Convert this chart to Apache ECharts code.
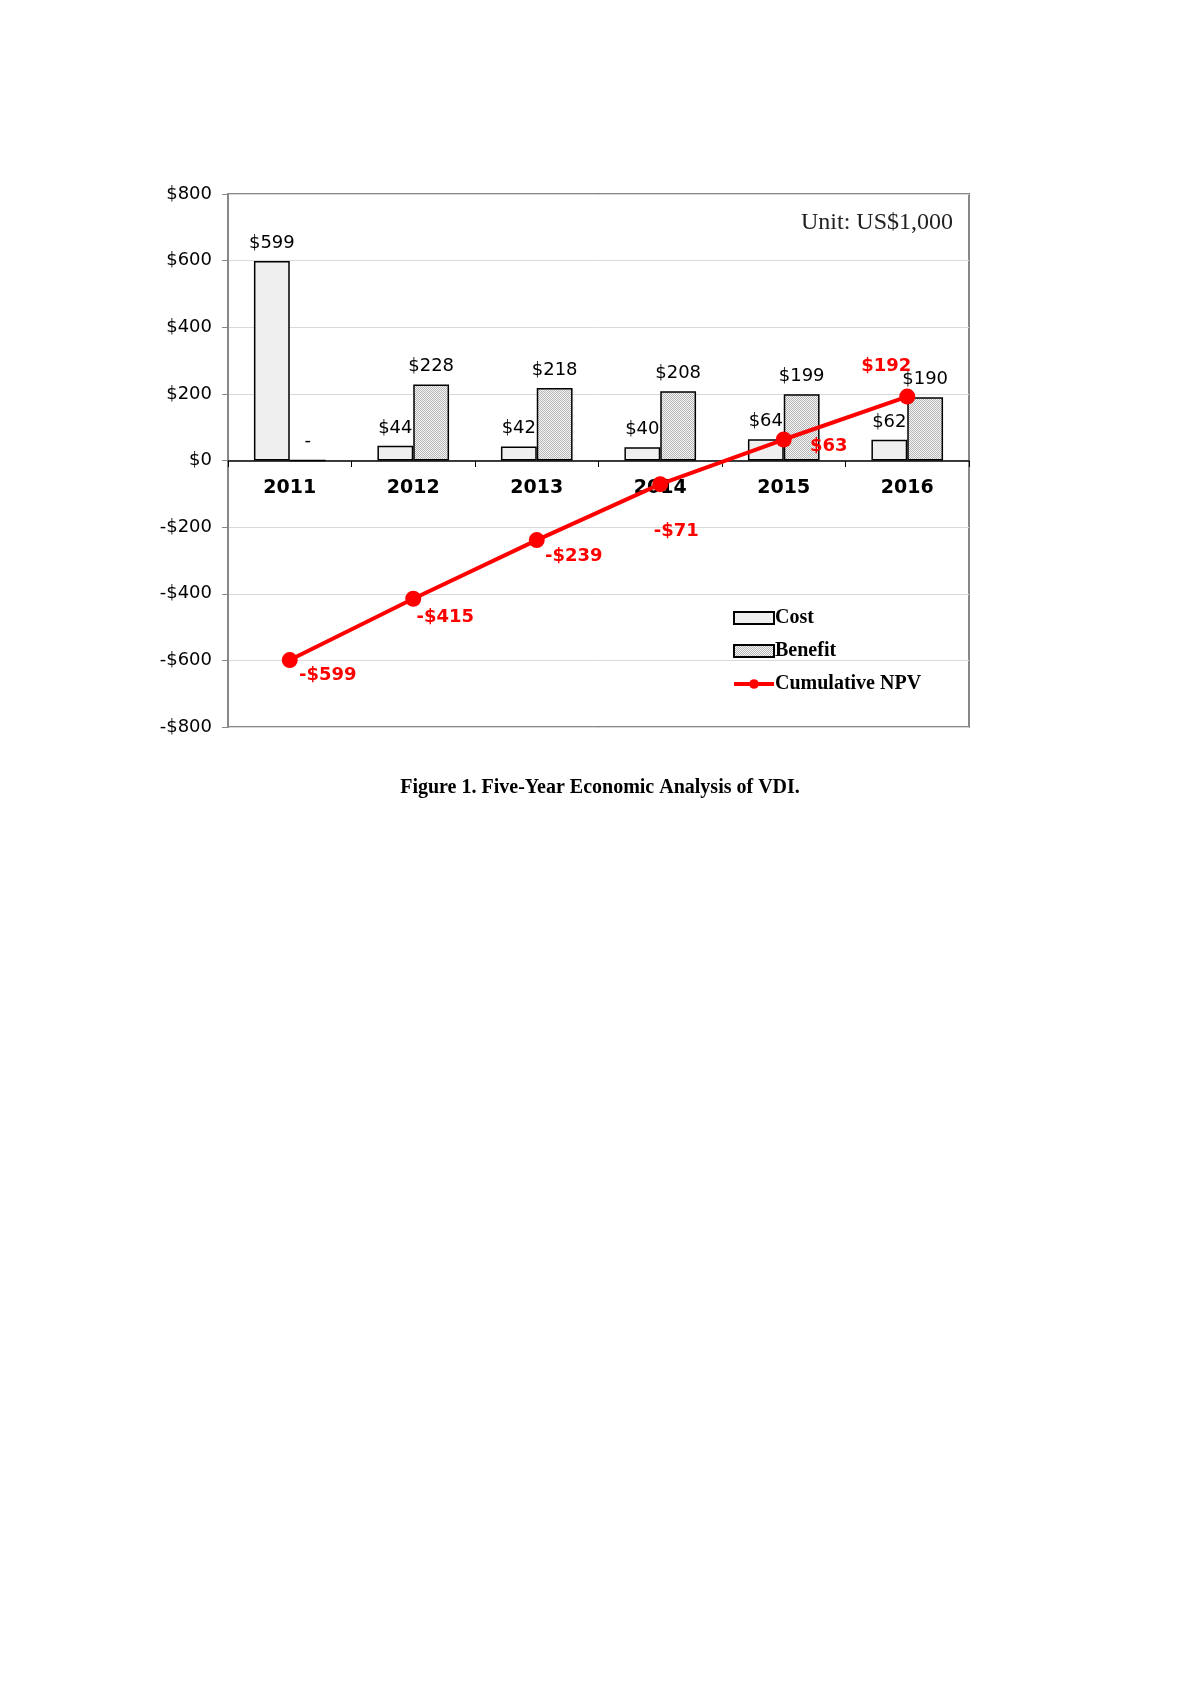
<!DOCTYPE html>
<html>
<head>
<meta charset="utf-8">
<script src="https://cdn.jsdelivr.net/npm/echarts@6/dist/echarts.min.js"></script>
<style>
  html, body { margin: 0; padding: 0; background: #fff; }
  #chart { width: 1200px; height: 1697px; }
</style>
</head>
<body>
<div id="chart"></div>
<script>
var years = ['2011', '2012', '2013', '2014', '2015', '2016'];
var cost = [599, 44, 42, 40, 64, 62];
var benefit = [0, 228, 218, 208, 199, 190];
var npv = [-599, -415, -239, -71, 63, 192];

// label offsets for the NPV points (x, y from the point centre)
var npvLabelOffsets = [[38, 15], [32, 19], [37, 16], [16, 47], [45, 7], [-21, -30]];

// dotted fill for benefit bars
var pat = document.createElement('canvas');
pat.width = 2; pat.height = 2;
var pctx = pat.getContext('2d');
pctx.fillStyle = '#f7f7f7'; pctx.fillRect(0, 0, 2, 2);
pctx.fillStyle = '#b4b4b4'; pctx.fillRect(0, 0, 1, 1); pctx.fillRect(1, 1, 1, 1);

function money(v) {
    return v < 0 ? '-$' + Math.abs(v) : '$' + v;
}

var myChart = echarts.init(document.getElementById('chart'));

var option = {
    backgroundColor: '#fff',
    animation: false,
    title: {
        text: 'Figure 1. Five-Year Economic Analysis of VDI.',
        left: 'center',
        top: 773,
        textStyle: { fontFamily: 'Liberation Serif', fontWeight: 'bold', fontSize: 20, color: '#000' }
    },
    graphic: [{
        type: 'text',
        right: 247,
        top: 211,
        style: { text: 'Unit: US$1,000', font: '24px "Liberation Serif"', fill: '#222' }
    }],
    legend: {
        orient: 'vertical',
        left: 727,
        top: 603,
        itemGap: 13,
        itemWidth: 40,
        itemHeight: 12,
        textStyle: { fontFamily: 'Liberation Serif', fontWeight: 'bold', fontSize: 20, color: '#000', padding: [0, 0, 0, -4] },
        data: [
            { name: 'Cost', icon: 'rect' },
            { name: 'Benefit', icon: 'rect' },
            { name: 'Cumulative NPV', itemStyle: { color: '#ff0000' }, lineStyle: { width: 4 } }
        ]
    },
    grid: {
        left: 228,
        top: 194,
        width: 741,
        height: 533,
        show: true,
        borderColor: '#888',
        borderWidth: 2
    },
    xAxis: {
        type: 'category',
        data: years,
        position: 'bottom',
        offset: -266,
        axisLine: { onZero: false, lineStyle: { color: '#000', width: 1.5 } },
        axisTick: { show: true, length: 6, lineStyle: { color: '#000' } },
        axisLabel: { color: '#000', fontFamily: 'DejaVu Sans', fontWeight: 'bold', fontSize: 19, margin: 18 }
    },
    yAxis: {
        type: 'value',
        min: -800,
        max: 800,
        interval: 200,
        axisLine: { show: true, lineStyle: { color: '#888', width: 2 } },
        axisTick: { show: true, length: 6, lineStyle: { color: '#888' } },
        splitLine: { lineStyle: { color: '#d9d9d9', width: 1 } },
        axisLabel: {
            color: '#000', fontFamily: 'DejaVu Sans', fontSize: 18, margin: 16,
            formatter: money
        }
    },
    series: [
        {
            name: 'Cost',
            type: 'bar',
            data: cost,
            barGap: '0%',
            barCategoryGap: '42%',
            itemStyle: { color: '#efefef', borderColor: '#000', borderWidth: 1.5 },
            label: {
                show: true, position: 'top', distance: 9,
                color: '#000', fontFamily: 'DejaVu Sans', fontSize: 18,
                formatter: function (p) { return money(p.value); }
            }
        },
        {
            name: 'Benefit',
            type: 'bar',
            data: benefit,
            itemStyle: { color: { image: pat, repeat: 'repeat' }, borderColor: '#000', borderWidth: 1.5 },
            label: {
                show: true, position: 'top', distance: 9,
                color: '#000', fontFamily: 'DejaVu Sans', fontSize: 18,
                formatter: function (p) { return p.value === 0 ? '-' : money(p.value); }
            }
        },
        {
            name: 'Cumulative NPV',
            type: 'line',
            z: 5,
            symbol: 'circle',
            symbolSize: 16,
            itemStyle: { color: '#ff0000' },
            lineStyle: { color: '#ff0000', width: 4 },
            data: npv.map(function (v, i) {
                return {
                    value: v,
                    label: { offset: npvLabelOffsets[i] }
                };
            }),
            label: {
                show: true, position: 'inside',
                color: '#ff0000', fontFamily: 'DejaVu Sans', fontWeight: 'bold', fontSize: 18,
                formatter: function (p) { return money(p.value); }
            }
        }
    ]
};

myChart.setOption(option);
</script>
</body>
</html>
